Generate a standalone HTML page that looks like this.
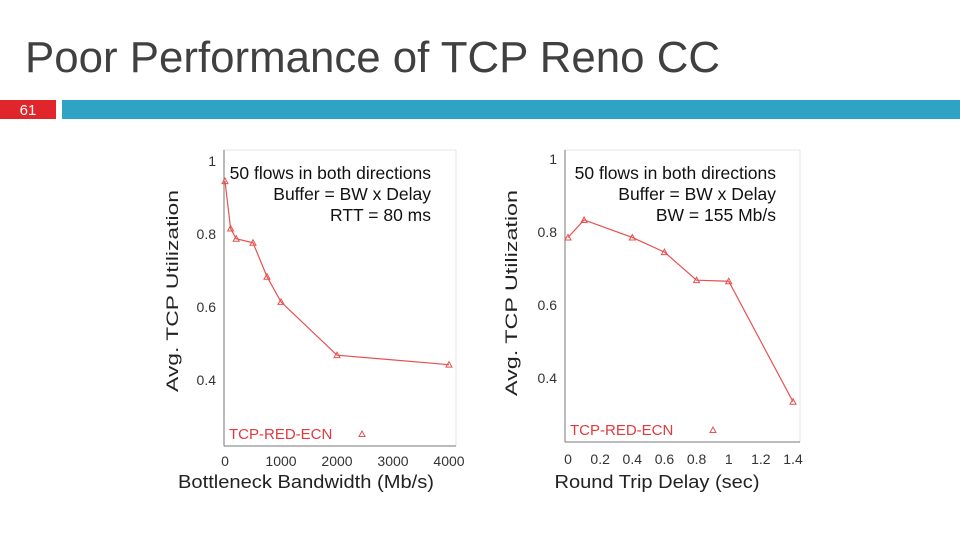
<!DOCTYPE html>
<html><head><meta charset="utf-8"><style>
body{margin:0;width:960px;height:540px;background:#fff;overflow:hidden;font-family:"Liberation Sans",sans-serif;position:relative}
.t{position:absolute;white-space:nowrap}
</style></head><body>
<svg id="s" width="960" height="540" style="position:absolute;left:0;top:0">
<text x="25" y="72" font-size="44" fill="#404040" font-family="Liberation Sans" textLength="695" lengthAdjust="spacingAndGlyphs">Poor Performance of TCP Reno CC</text>
<rect x="0" y="100" width="56" height="19" fill="#e0262b"/>
<text x="28" y="115" font-size="15" fill="#fff" text-anchor="middle" font-family="Liberation Sans">61</text>
<rect x="62" y="100" width="898" height="19" fill="#2ea3c4"/>
</svg>
<script>
const leftX=[0,100,200,500,750,1000,2000,4000];
const leftY=[0.945,0.815,0.787,0.776,0.683,0.614,0.468,0.442];
const leftTicksX=[0,1000,2000,3000,4000];
const rightX=[0,0.1,0.4,0.6,0.8,1.0,1.4];
const rightY=[0.785,0.833,0.785,0.745,0.668,0.665,0.335];
const rightTicksX=[0,0.2,0.4,0.6,0.8,1,1.2,1.4];
const ticksY=[0.4,0.6,0.8,1];
const svg=document.getElementById('s');
const NS='http://www.w3.org/2000/svg';
function mk(tag,at,txt){const e=document.createElementNS(NS,tag);for(const k in at)e.setAttribute(k,at[k]);if(txt!==undefined)e.textContent=txt;svg.appendChild(e);return e;}
function chart(cfg){
  const sx=v=>cfg.x0+(v-cfg.xmin)/(cfg.xmax-cfg.xmin)*(cfg.x1-cfg.x0);
  const sy=v=>cfg.y08-(v-0.8)/0.2*cfg.step;
  let r=mk('rect',{x:cfg.bl,y:cfg.bt,width:cfg.br-cfg.bl,height:cfg.bb-cfg.bt,fill:'none',stroke:'#e4e4e4','stroke-width':1});
  
  let a=mk('line',{x1:cfg.bl,y1:cfg.bt,x2:cfg.bl,y2:cfg.bb,stroke:'#777'});
  
  a=mk('line',{x1:cfg.bl,y1:cfg.bb,x2:cfg.br,y2:cfg.bb,stroke:'#777'});
  
  ticksY.forEach(v=>{
    let t=mk('text',{x:cfg.bl-8,y:sy(v)+5,'font-size':14,'text-anchor':'end',fill:'#333','font-family':'Liberation Sans'},v===1?'1':v.toFixed(1));
    
  });
  cfg.tx.forEach(v=>{
    let t=mk('text',{x:sx(v),y:cfg.bb+cfg.txo,'font-size':14,'text-anchor':'middle',fill:'#333','font-family':'Liberation Sans'},String(v));
    
  });
  const pts=cfg.xs.map((x,i)=>sx(x)+','+sy(cfg.ys[i])).join(' ');
  let l=mk('polyline',{points:pts,fill:'none',stroke:'#e8504f','stroke-width':1.2});
  
  cfg.xs.forEach((x,i)=>{
    const px=sx(x),py=sy(cfg.ys[i]);
    let m=mk('polygon',{points:`${px},${py-3} ${px-3},${py+2.5} ${px+3},${py+2.5}`,fill:'none',stroke:'#e8504f','stroke-width':1});
    
  });
  let lg=mk('text',{x:cfg.bl+5,y:cfg.bb-7,'font-size':15,fill:'#e0393e','font-family':'Liberation Sans'},'TCP-RED-ECN');
  
  const lx=cfg.lgx,ly=cfg.bb-12;
  let lm=mk('polygon',{points:`${lx},${ly-3} ${lx-3},${ly+2.5} ${lx+3},${ly+2.5}`,fill:'none',stroke:'#e8504f'});
  
  cfg.ann.forEach((s,i)=>{
    let t=mk('text',{x:cfg.annx,y:cfg.bt+29+i*21,'font-size':17.5,'text-anchor':'end',fill:'#111','font-family':'Liberation Sans'},s);
    
  });
  let yt=mk('text',{x:0,y:0,'font-size':17,'text-anchor':'middle',fill:'#222','font-family':'Liberation Sans',textLength:cfg.ytl,lengthAdjust:'spacingAndGlyphs',transform:`translate(${cfg.ytx},${cfg.yty}) rotate(-90)`},'Avg. TCP Utilization');
  
  let xt=mk('text',{x:cfg.xtx,y:488,'font-size':18,'text-anchor':'middle',fill:'#222','font-family':'Liberation Sans',textLength:cfg.xtl,lengthAdjust:'spacingAndGlyphs'},cfg.xtitle);
  
}
chart({name:'left',x0:225,x1:449,xmin:0,xmax:4000,y08:234,step:73,bl:224,br:456,bt:150,bb:446,txo:20,tx:leftTicksX,xs:leftX,ys:leftY,lgx:362,
  ann:['50 flows in both directions','Buffer = BW x Delay','RTT = 80 ms'],annx:431,ytx:178,yty:291,ytl:202,xtx:306,xtl:256,xtitle:'Bottleneck Bandwidth (Mb/s)'});
chart({name:'right',x0:568,x1:793,xmin:0,xmax:1.4,y08:232,step:73,bl:565,br:800,bt:150,bb:442,txo:22,tx:rightTicksX,xs:rightX,ys:rightY,lgx:713,
  ann:['50 flows in both directions','Buffer = BW x Delay','BW = 155 Mb/s'],annx:776,ytx:517,yty:293,ytl:206,xtx:657,xtl:205,xtitle:'Round Trip Delay (sec)'});
</script>
</body></html>
